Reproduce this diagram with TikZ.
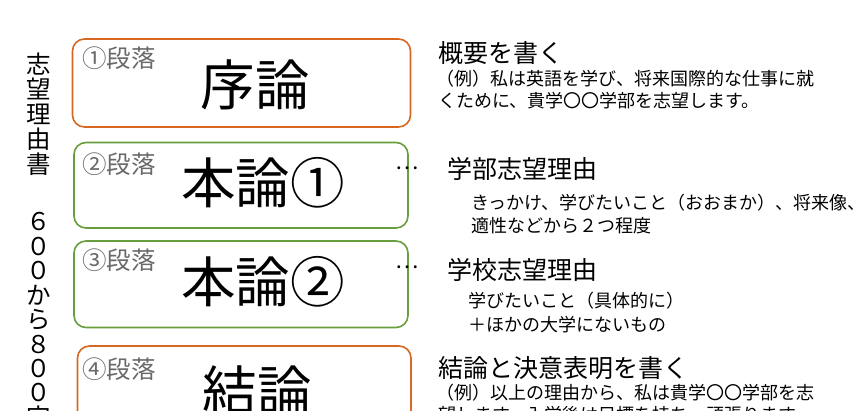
\documentclass[tikz,border=0pt]{standalone}
\usepackage{fontspec}
\setmainfont{Noto Sans CJK JP}
\definecolor{orangeB}{RGB}{214,104,36}
\definecolor{greenB}{RGB}{104,158,62}
\definecolor{lblgray}{RGB}{105,105,105}
\begin{document}
\begin{tikzpicture}[x=1pt,y=-1pt,
  box/.style={draw, line width=1.6pt, rounded corners=12pt, inner sep=0pt, outer sep=0pt},
  obox/.style={box, draw=orangeB},
  gbox/.style={box, draw=greenB},
  lbl/.style={anchor=west, inner sep=0pt, text=lblgray, font=\fontsize{24.5}{25}\selectfont},
  ttl/.style={inner sep=0pt, font=\fontsize{54.5}{55}\selectfont},
  head/.style={anchor=west, inner sep=0pt, font=\fontsize{25}{25}\selectfont},
  body/.style={anchor=west, inner sep=0pt, font=\fontsize{18}{18}\selectfont},
  vch/.style={inner sep=0pt, font=\fontsize{24.5}{25}\selectfont},
  dots/.style={inner sep=0pt, font=\fontsize{22}{22}\selectfont}
]
\clip (0,0) rectangle (864,411);
\fill[white] (0,0) rectangle (864,411);

% vertical title
\foreach \c [count=\i] in {志,望,理,由,書}
  \node[vch] (va\i) at (39,{64+25*(\i-1)}) {\c};
\foreach \c [count=\i] in {６,０,０,か,ら,８,０,０,字}
  \node[vch] (vb\i) at (39,{222+24.4*(\i-1)}) {\c};

% boxes
\node[obox, minimum width=338pt, minimum height=88pt] (b1) at (241.5,83) {};
\node[gbox, minimum width=334pt, minimum height=85.5pt] (b2) at (241,185.25) {};
\node[gbox, minimum width=334pt, minimum height=86.5pt] (b3) at (241,284.25) {};
\node[obox, minimum width=333.5pt, minimum height=88pt] (b4) at (244.25,390) {};

% paragraph labels
\node[lbl] (l1) at (82,58) {①段落};
\node[lbl] (l2) at (82,164) {②段落};
\node[lbl] (l3) at (82,260) {③段落};
\node[lbl] (l4) at (82,369) {④段落};

% titles
\node[ttl] (t1) at (255,85) {序論};
\node[ttl] (t2) at (263,183) {本論①};
\node[ttl] (t3) at (263,282) {本論②};
\node[ttl] (t4) at (257,391) {結論};

% dots
\node[dots] (d2) at (407,168) {…};
\node[dots] (d3) at (407,267) {…};

% right side texts
\node[head] (h1) at (438,53) {概要を書く};
\node[body] (s1a) at (436,79) {（例）私は英語を学び、将来国際的な仕事に就};
\node[body] (s1b) at (438,101) {くために、貴学〇〇学部を志望します。};

\node[head] (h2) at (447,169) {学部志望理由};
\node[body] (s2a) at (471,203) {きっかけ、学びたいこと（おおまか）、将来像、};
\node[body] (s2b) at (471,226) {適性などから２つ程度};

\node[head] (h3) at (447,270) {学校志望理由};
\node[body] (s3a) at (468,301) {学びたいこと（具体的に）};
\node[body] (s3b) at (468,325) {＋ほかの大学にないもの};

\node[head] (h4) at (438,368) {結論と決意表明を書く};
\node[body] (s4a) at (436,393) {（例）以上の理由から、私は貴学〇〇学部を志};
\node[body] (s4b) at (438,415) {望します。入学後は目標を持ち、頑張ります。};
\end{tikzpicture}
\end{document}
